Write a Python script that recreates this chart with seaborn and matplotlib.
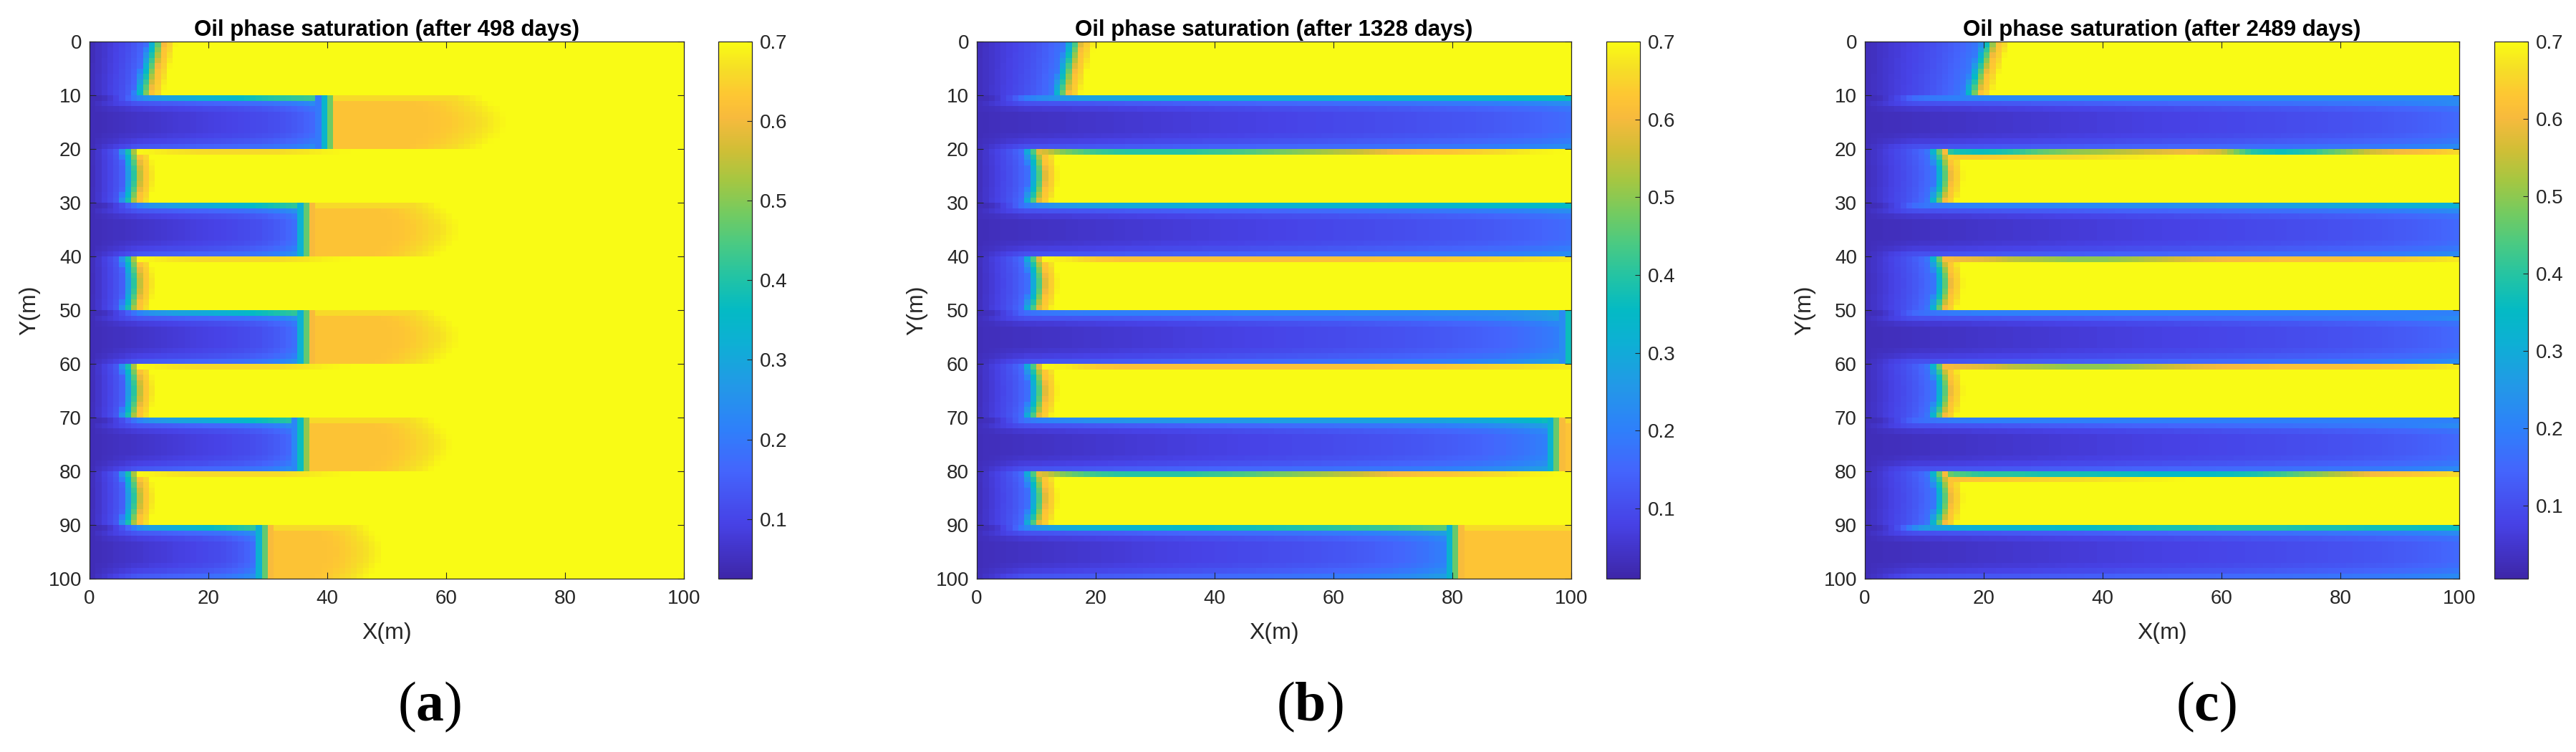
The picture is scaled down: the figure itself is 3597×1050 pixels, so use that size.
import numpy as np
import matplotlib
matplotlib.use("Agg")
import matplotlib.pyplot as plt
import seaborn as sns
from matplotlib.colors import LinearSegmentedColormap

# ---------------- data ----------------
days = [498, 1328, 2489]
panel_tags = ["a", "b", "c"]
x_ticks = [0, 20, 40, 60, 80, 100]
y_ticks = [0, 10, 20, 30, 40, 50, 60, 70, 80, 90, 100]
cbar_ticks = [0.1, 0.2, 0.3, 0.4, 0.5, 0.6, 0.7]
vmins = [0.025, 0.010, 0.006]
vmax = 0.7

# water-front x-position (m) on top / bottom row of each 10 m layer (>100: fully swept)
front_top_a = [10.6, 39.5, 6.0, 35.6, 6.0, 35.6, 6.0, 35.3, 6.0, 28.6]
front_bot_a = [8.4, 39.5, 6.0, 35.6, 6.0, 35.6, 6.0, 35.3, 6.0, 28.6]
front_top_b = [15.8, 200, 8.6, 200, 8.6, 99.3, 8.6, 96.6, 8.6, 79.6]
front_bot_b = [13.6, 200, 8.6, 200, 8.6, 99.3, 8.6, 96.6, 8.6, 79.6]
front_top_c = [20.3, 200, 11.4, 200, 11.4, 200, 11.4, 200, 11.4, 200]
front_bot_c = [17.5, 200, 11.4, 200, 11.4, 200, 11.4, 200, 11.4, 200]
bulge_a = [0.0, 0.0, 1.0, 0.0, 1.0, 0.0, 1.0, 0.0, 1.0, 0.0]
bulge_b = [0.0, 0.0, 1.2, 0.0, 1.2, 0.0, 1.2, 0.0, 1.2, 0.0]
bulge_c = [0.0, 0.0, 1.3, 0.0, 1.3, 0.0, 1.3, 0.0, 1.3, 0.0]
# length of the oil bank (orange) ahead of the front and of its fade to 0.7
bank_a = [0, 15, 0, 13, 0, 13, 0, 12, 0, 9]
fade_a = [2, 14, 2, 12, 2, 12, 2, 12, 2, 10]
bank_b = [0, 0, 0, 0, 0, 20, 0, 20, 0, 25]
fade_b = [2, 5, 2, 5, 2, 5, 2, 5, 2, 5]
bank_c = [0, 0, 0, 0, 0, 0, 0, 0, 0, 0]
fade_c = [2, 2, 2, 2, 2, 2, 2, 2, 2, 2]
swept_left = [0.04, 0.03, 0.025]
swept_fast = [0.13, 0.14, 0.13]

# boundary-row profiles, sampled every 5 m (x = 0, 5, ..., 100)
stripe_x = list(range(0, 101, 5))
# rows behind the front (swept side)
up_a = {
    10: [0.08, 0.16, 0.26, 0.30, 0.33, 0.36, 0.40, 0.42, 0.44, 0.45, 0.45, 0.45, 0.45, 0.45, 0.45, 0.45, 0.45, 0.45, 0.45, 0.45, 0.45],
    30: [0.08, 0.15, 0.25, 0.29, 0.31, 0.34, 0.38, 0.42, 0.44, 0.44, 0.44, 0.44, 0.44, 0.44, 0.44, 0.44, 0.44, 0.44, 0.44, 0.44, 0.44],
    50: [0.08, 0.15, 0.25, 0.29, 0.31, 0.34, 0.38, 0.42, 0.44, 0.44, 0.44, 0.44, 0.44, 0.44, 0.44, 0.44, 0.44, 0.44, 0.44, 0.44, 0.44],
    70: [0.08, 0.15, 0.25, 0.29, 0.31, 0.34, 0.38, 0.42, 0.44, 0.44, 0.44, 0.44, 0.44, 0.44, 0.44, 0.44, 0.44, 0.44, 0.44, 0.44, 0.44],
    90: [0.08, 0.16, 0.28, 0.32, 0.36, 0.40, 0.44, 0.46, 0.46, 0.46, 0.46, 0.46, 0.46, 0.46, 0.46, 0.46, 0.46, 0.46, 0.46, 0.46, 0.46],
}
up_b = {
    10: [0.08, 0.14, 0.22, 0.26, 0.28, 0.29, 0.30, 0.30, 0.30, 0.30, 0.30, 0.30, 0.31, 0.31, 0.32, 0.32, 0.33, 0.33, 0.34, 0.35, 0.36],
    30: [0.08, 0.14, 0.22, 0.26, 0.28, 0.30, 0.30, 0.31, 0.31, 0.32, 0.32, 0.33, 0.33, 0.33, 0.34, 0.34, 0.34, 0.35, 0.35, 0.35, 0.36],
    50: [0.08, 0.13, 0.18, 0.19, 0.20, 0.20, 0.20, 0.20, 0.20, 0.21, 0.21, 0.21, 0.21, 0.22, 0.22, 0.22, 0.23, 0.23, 0.24, 0.26, 0.30],
    70: [0.08, 0.14, 0.20, 0.22, 0.24, 0.25, 0.25, 0.26, 0.26, 0.26, 0.27, 0.27, 0.27, 0.28, 0.28, 0.28, 0.29, 0.30, 0.32, 0.36, 0.40],
    90: [0.08, 0.15, 0.25, 0.30, 0.32, 0.33, 0.34, 0.35, 0.36, 0.37, 0.38, 0.39, 0.40, 0.41, 0.42, 0.44, 0.46, 0.50, 0.55, 0.55, 0.55],
}
up_c = {
    10: [0.06, 0.12, 0.18, 0.20, 0.21, 0.22, 0.22, 0.22, 0.22, 0.22, 0.22, 0.22, 0.22, 0.22, 0.22, 0.22, 0.22, 0.22, 0.22, 0.22, 0.22],
    30: [0.06, 0.12, 0.18, 0.20, 0.21, 0.21, 0.21, 0.22, 0.22, 0.23, 0.23, 0.24, 0.25, 0.26, 0.27, 0.28, 0.29, 0.30, 0.31, 0.31, 0.31],
    50: [0.06, 0.12, 0.17, 0.19, 0.20, 0.20, 0.20, 0.20, 0.20, 0.20, 0.20, 0.20, 0.20, 0.20, 0.20, 0.20, 0.20, 0.20, 0.20, 0.20, 0.20],
    70: [0.06, 0.12, 0.17, 0.19, 0.20, 0.20, 0.20, 0.20, 0.20, 0.20, 0.20, 0.20, 0.20, 0.20, 0.20, 0.20, 0.20, 0.20, 0.20, 0.20, 0.20],
    90: [0.06, 0.14, 0.26, 0.30, 0.32, 0.33, 0.34, 0.35, 0.36, 0.37, 0.38, 0.38, 0.39, 0.39, 0.39, 0.38, 0.38, 0.37, 0.37, 0.36, 0.36],
}
# rows ahead of the front (oil side)
down_a = {
    20: [0.70, 0.70, 0.69, 0.67, 0.66, 0.66, 0.66, 0.67, 0.69, 0.70, 0.70, 0.70, 0.70, 0.70, 0.70, 0.70, 0.70, 0.70, 0.70, 0.70, 0.70],
    40: [0.70, 0.70, 0.69, 0.67, 0.66, 0.66, 0.66, 0.67, 0.69, 0.70, 0.70, 0.70, 0.70, 0.70, 0.70, 0.70, 0.70, 0.70, 0.70, 0.70, 0.70],
    60: [0.70, 0.70, 0.69, 0.67, 0.66, 0.66, 0.66, 0.67, 0.69, 0.70, 0.70, 0.70, 0.70, 0.70, 0.70, 0.70, 0.70, 0.70, 0.70, 0.70, 0.70],
    80: [0.70, 0.70, 0.69, 0.67, 0.66, 0.66, 0.66, 0.67, 0.69, 0.70, 0.70, 0.70, 0.70, 0.70, 0.70, 0.70, 0.70, 0.70, 0.70, 0.70, 0.70],
}
down_b = {
    20: [0.70, 0.66, 0.60, 0.48, 0.42, 0.40, 0.40, 0.40, 0.42, 0.44, 0.47, 0.50, 0.53, 0.56, 0.60, 0.62, 0.63, 0.65, 0.67, 0.69, 0.70],
    40: [0.70, 0.70, 0.70, 0.68, 0.64, 0.62, 0.62, 0.62, 0.62, 0.62, 0.62, 0.62, 0.62, 0.62, 0.63, 0.63, 0.64, 0.65, 0.66, 0.67, 0.68],
    60: [0.70, 0.70, 0.70, 0.68, 0.64, 0.62, 0.62, 0.62, 0.62, 0.62, 0.62, 0.62, 0.62, 0.62, 0.63, 0.63, 0.64, 0.65, 0.66, 0.67, 0.68],
    80: [0.70, 0.66, 0.60, 0.48, 0.42, 0.40, 0.40, 0.40, 0.42, 0.44, 0.47, 0.50, 0.53, 0.56, 0.60, 0.62, 0.63, 0.65, 0.67, 0.69, 0.70],
}
down_c = {
    20: [0.70, 0.70, 0.60, 0.38, 0.36, 0.40, 0.46, 0.50, 0.52, 0.55, 0.58, 0.60, 0.56, 0.40, 0.36, 0.40, 0.48, 0.56, 0.60, 0.62, 0.66],
    21: [0.70, 0.70, 0.68, 0.64, 0.64, 0.65, 0.66, 0.66, 0.67, 0.68, 0.69, 0.70, 0.70, 0.70, 0.70, 0.70, 0.70, 0.70, 0.70, 0.70, 0.70],
    40: [0.70, 0.70, 0.66, 0.60, 0.58, 0.54, 0.52, 0.50, 0.50, 0.52, 0.55, 0.58, 0.60, 0.61, 0.62, 0.62, 0.62, 0.63, 0.64, 0.66, 0.68],
    60: [0.70, 0.70, 0.66, 0.60, 0.58, 0.54, 0.52, 0.50, 0.50, 0.52, 0.55, 0.58, 0.60, 0.61, 0.62, 0.62, 0.62, 0.63, 0.64, 0.66, 0.68],
    80: [0.70, 0.70, 0.60, 0.45, 0.40, 0.40, 0.38, 0.38, 0.37, 0.36, 0.35, 0.35, 0.36, 0.38, 0.42, 0.48, 0.54, 0.60, 0.62, 0.64, 0.66],
    81: [0.70, 0.70, 0.66, 0.62, 0.63, 0.64, 0.65, 0.66, 0.67, 0.68, 0.69, 0.70, 0.70, 0.70, 0.70, 0.70, 0.70, 0.70, 0.70, 0.70, 0.70],
}
edge_fast = [0.0, 0.07, 0.02, 0.0, 0.0, 0.0, 0.0, 0.01, 0.03, 0.07]

# parula colour map anchors
parula_pos = [0.00, 0.10, 0.20, 0.28, 0.36, 0.44, 0.50, 0.56, 0.62, 0.68, 0.74, 0.80, 0.86, 0.90, 0.95, 1.00]
parula_rgb = [
    (0.2422, 0.1504, 0.6603), (0.2780, 0.2560, 0.9000), (0.2660, 0.3950, 0.9900),
    (0.1800, 0.5050, 0.9800), (0.1350, 0.6000, 0.9050), (0.0500, 0.6900, 0.8300),
    (0.0150, 0.7300, 0.7700), (0.1300, 0.7650, 0.6500), (0.2800, 0.7900, 0.5200),
    (0.4500, 0.7950, 0.3800), (0.6400, 0.7800, 0.2600), (0.8200, 0.7450, 0.2100),
    (0.9700, 0.7300, 0.2400), (0.9950, 0.7750, 0.2000), (0.9650, 0.8700, 0.1500),
    (0.9769, 0.9839, 0.0805),
]


def build_field(ftop, fbot, bulge, bank, fade, up, down, sw_left, sw_fast):
    n = 100
    xc = np.arange(n) + 0.5
    Z = np.full((n, n), 0.7)
    for L in range(10):
        fast = (L % 2 == 1)
        for k in range(10):
            r = L * 10 + k
            t = k / 9.0
            shape = np.sin(np.pi * (k + 0.5) / 10)
            f = ftop[L] * (1 - t) + fbot[L] * t + bulge[L] * shape
            f_eff = f if f <= 100 else 108.0
            u = np.clip(xc / f_eff, 0, 1)
            if fast:
                v_sw = sw_left + (sw_fast - sw_left) * u + 0.07 * u ** 10 \
                    + edge_fast[k] * np.clip(xc / 8, 0, 1)
            else:
                v_sw = sw_left + (0.16 - sw_left) * u + 0.05 * u ** 6
            if r in up:
                s = np.interp(xc, stripe_x, up[r])
                ramp = np.clip((xc - 2) / 6, 0, 1)
                v_sw = v_sw * (1 - ramp) + s * ramp
            d = xc - f
            v_tr = 0.2 + 0.42 * np.clip((d + 1) / 3, 0, 1)
            pl = bank[L] * (0.7 + 0.3 * shape)
            v_dn = 0.625 + 0.075 * np.clip((d - 2 - pl) / fade[L], 0, 1) ** 1.5
            if fast and k == 0:
                v_dn = np.maximum(v_dn, 0.66)
            if r in down:
                v_dn = np.interp(xc, stripe_x, down[r])
            Z[r] = np.where(d < -1, v_sw, np.where(d < 2, v_tr, v_dn))
    return Z


fields = [
    build_field(front_top_a, front_bot_a, bulge_a, bank_a, fade_a, up_a, down_a, swept_left[0], swept_fast[0]),
    build_field(front_top_b, front_bot_b, bulge_b, bank_b, fade_b, up_b, down_b, swept_left[1], swept_fast[1]),
    build_field(front_top_c, front_bot_c, bulge_c, bank_c, fade_c, up_c, down_c, swept_left[2], swept_fast[2]),
]

# ---------------- figure ----------------
plt.rcParams["font.family"] = ["Liberation Sans", "DejaVu Sans"]
plt.rcParams["mathtext.fontset"] = "custom"
plt.rcParams["mathtext.rm"] = "Liberation Serif"
plt.rcParams["mathtext.bf"] = "Liberation Serif:bold"

parula = LinearSegmentedColormap.from_list("parula", list(zip(parula_pos, parula_rgb)), N=256)

W, H = 3598, 1050
fig = plt.figure(figsize=(W / 100, H / 100), dpi=100)
dark = "#262626"

ax_lefts = [125, 1364, 2604]
cb_lefts = [1003, 2243, 3483]
ax_w, cb_w = 830, 47
top_px, bot_px = 58, 808
tag_x = [600, 1829, 3080]

for i in range(3):
    ax = fig.add_axes([ax_lefts[i] / W, 1 - bot_px / H, ax_w / W, (bot_px - top_px) / H])
    cax = fig.add_axes([cb_lefts[i] / W, 1 - bot_px / H, cb_w / W, (bot_px - top_px) / H])
    sns.heatmap(fields[i], ax=ax, cbar_ax=cax, cmap=parula, vmin=vmins[i], vmax=vmax,
                xticklabels=False, yticklabels=False, cbar_kws={"ticks": cbar_ticks})
    for s in ax.spines.values():
        s.set_visible(True)
        s.set_color(dark)
        s.set_linewidth(0.9)
    ax.set_xlim(0, 100)
    ax.set_ylim(100, 0)
    ax.set_xticks(x_ticks)
    ax.set_xticklabels([str(v) for v in x_ticks])
    ax.set_yticks(y_ticks)
    ax.set_yticklabels([str(v) for v in y_ticks])
    ax.tick_params(axis="both", direction="in", length=6.5, width=0.8, color=dark,
                   labelcolor=dark, labelsize=20, top=True, right=True)
    ax.tick_params(axis="x", pad=11)
    ax.tick_params(axis="y", pad=8)
    ax.set_xlabel("X(m)", fontsize=23, color=dark, labelpad=14)
    ax.set_ylabel("Y(m)", fontsize=23, color=dark, labelpad=8)
    ax.set_title(f"Oil phase saturation (after {days[i]} days)", fontsize=22.5,
                 fontweight="bold", color="black", pad=6)

    cbar = ax.collections[0].colorbar
    cbar.outline.set_edgecolor(dark)
    cbar.outline.set_linewidth(0.9)
    cbar.ax.tick_params(direction="in", length=5, width=0.8, color=dark,
                        labelcolor=dark, labelsize=20, pad=8, right=True, left=False)
    cbar.ax.set_yticklabels([f"{v:.1f}" for v in cbar_ticks])

    fig.text(tag_x[i] / W, 1 - 987 / H, r"$(\mathbf{" + panel_tags[i] + r"})$",
             fontsize=56, ha="center", va="center", color="black")

fig.savefig("out.png", dpi=100)
